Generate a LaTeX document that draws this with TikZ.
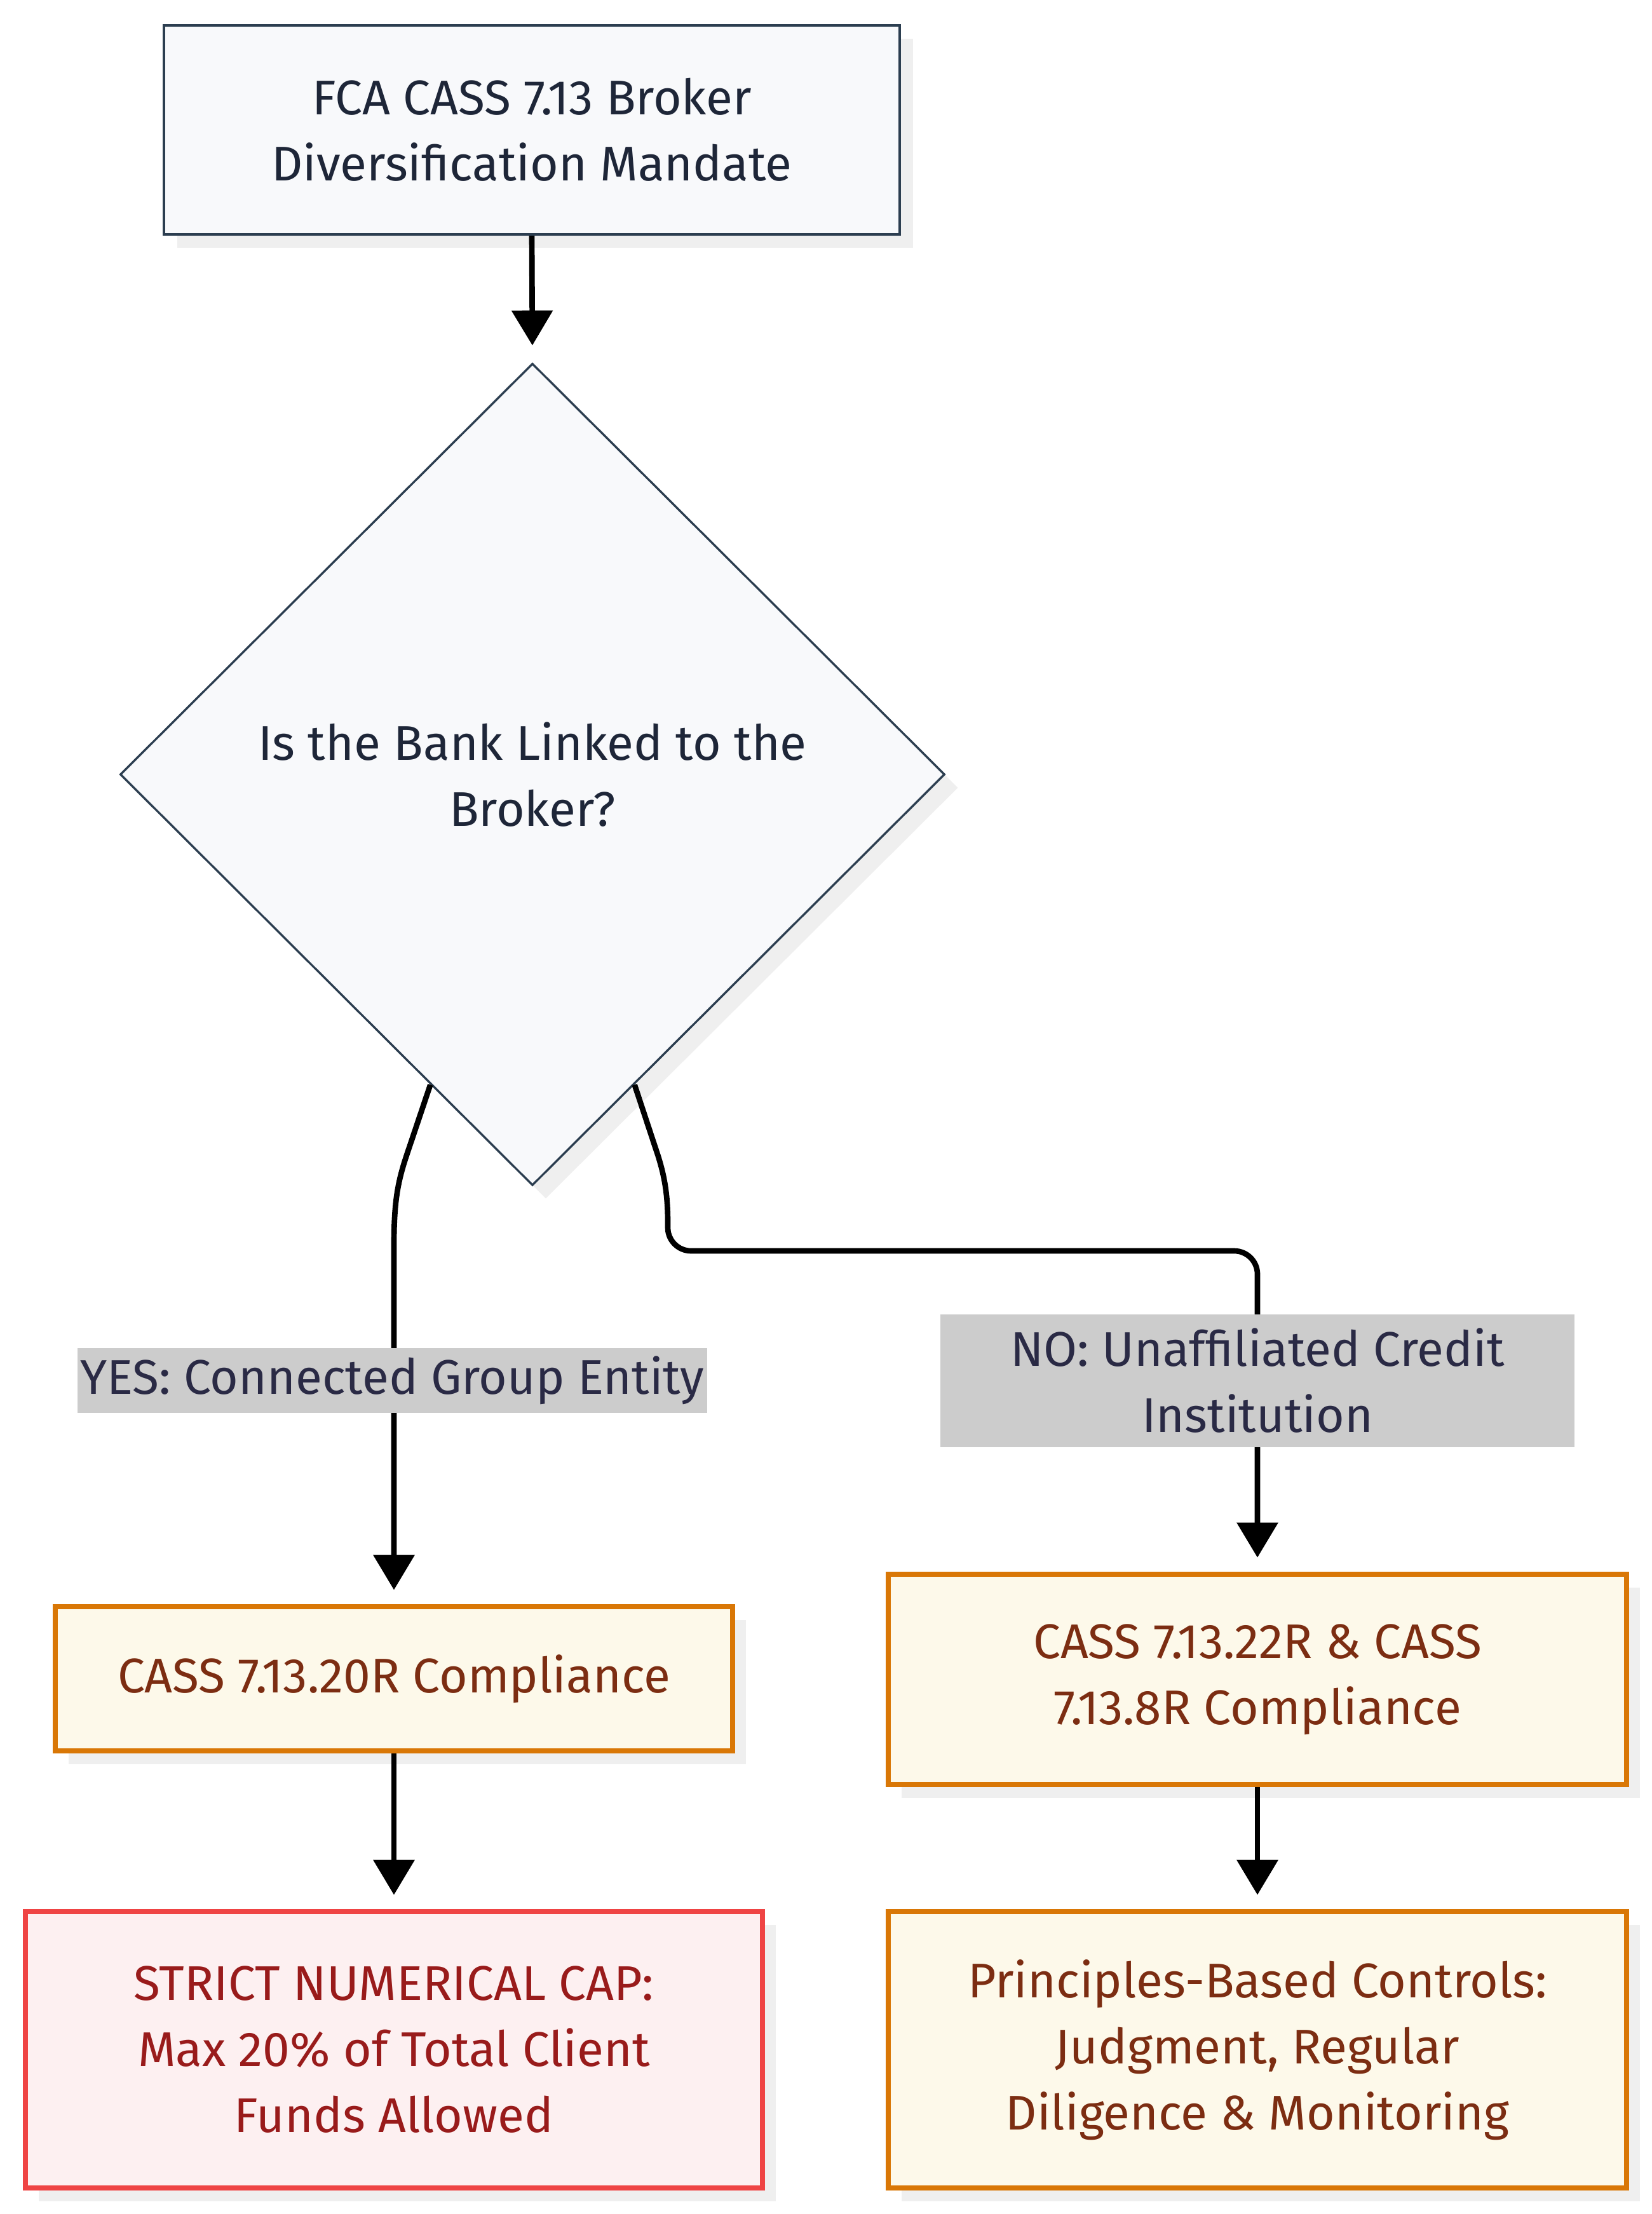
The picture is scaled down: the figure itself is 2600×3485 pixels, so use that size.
\documentclass[tikz,border=0pt]{standalone}
\usepackage{fontspec}
\setmainfont{Fira Sans}
\usetikzlibrary{shapes.geometric,shadows,calc,arrows.meta}
\definecolor{navyline}{HTML}{2C3E50}
\definecolor{navyfill}{HTML}{F8F9FB}
\definecolor{navytext}{HTML}{1E2638}
\definecolor{orline}{HTML}{D97706}
\definecolor{orfill}{HTML}{FDF9EA}
\definecolor{ortext}{HTML}{7C2D12}
\definecolor{rdline}{HTML}{EF4444}
\definecolor{rdfill}{HTML}{FDF0F1}
\definecolor{rdtext}{HTML}{991B1B}
\definecolor{lblfill}{HTML}{CCCCCC}
\definecolor{lbltext}{HTML}{2A2A45}
\definecolor{shadowc}{HTML}{EFEFEF}
\begin{document}
\begin{tikzpicture}[x=0.3pt,y=-0.3pt,
  basebox/.style={rectangle, inner sep=0pt, align=center,
    font=\fontsize{23}{31.2}\selectfont,
    drop shadow={shadow xshift=6.3pt, shadow yshift=-6.3pt, fill=shadowc, opacity=1}},
  navybox/.style={basebox, draw=navyline, fill=navyfill, text=navytext, line width=1.3pt},
  diam/.style={navybox, diamond, line width=1pt},
  orbox/.style={basebox, draw=orline, fill=orfill, text=ortext, line width=2.6pt},
  rdbox/.style={basebox, draw=rdline, fill=rdfill, text=rdtext, line width=2.6pt},
  lbl/.style={rectangle, inner sep=0pt, fill=lblfill, text=lbltext, align=center,
    font=\fontsize{23}{31.2}\selectfont},
  arr/.style={draw=black, line width=2.6pt, -{Triangle[length=16.5pt,width=19pt]}, shorten >=6.6pt}
]
\useasboundingbox (0,0) rectangle (2600,3485);
\fill[white] (0,0) rectangle (2600,3485);

\node[navybox, minimum width=347.4pt, minimum height=98.7pt] (top) at (837,204.5)
  {FCA CASS 7.13 Broker\\Diversification Mandate};
\node[diam, minimum width=389.4pt, minimum height=388.2pt] (q) at (838,1219)
  {Is the Bank Linked to the\\Broker?};
\node[orbox, minimum width=319.8pt, minimum height=68.1pt] (c20) at (620,2642.5)
  {CASS 7.13.20R Compliance};
\node[orbox, minimum width=348.6pt, minimum height=99.3pt] (c22) at (1979,2643.5)
  {CASS 7.13.22R \& CASS\\7.13.8R Compliance};
\node[rdbox, minimum width=348pt, minimum height=130.5pt] (cap) at (620,3226.5)
  {STRICT NUMERICAL CAP:\\Max 20\% of Total Client\\Funds Allowed};
\node[orbox, minimum width=348.6pt, minimum height=130.5pt] (pri) at (1979,3226.5)
  {Principles-Based Controls:\\Judgment, Regular\\Diligence \& Monitoring};

\coordinate (ys) at ($(q.south)!0.247!(q.west)$);
\coordinate (ns) at ($(q.south)!0.247!(q.east)$);

\draw[arr, shorten >=8pt] (top.south) -- (q.north);
\draw[arr] (ys) -- ++(-37,110) .. controls +(-14,42) and (620,1890) .. (620,1960) -- (c20.north);
\draw[arr] (ns) -- ++(37,112) .. controls +(10,32) and (1051,1880) .. (1051,1925)
  [rounded corners=11pt] -- (1051,1969) -- (1979,1969) -- (c22.north);
\draw[arr] (c20.south) -- (cap.north);
\draw[arr] (c22.south) -- (pri.north);

\node[lbl, minimum width=297.3pt, minimum height=30.6pt] (yl) at (617.5,2173)
  {YES: Connected Group Entity};
\node[lbl, minimum width=299.4pt, minimum height=62.7pt] (nl) at (1979,2173.5)
  {NO: Unaffiliated Credit\\Institution};
\end{tikzpicture}
\end{document}
